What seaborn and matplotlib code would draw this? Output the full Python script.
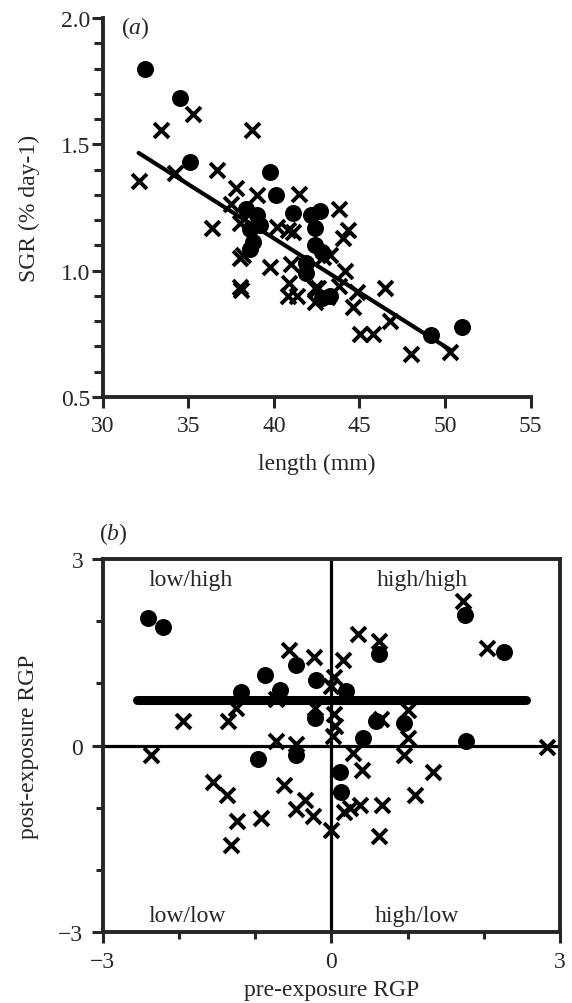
import numpy as np
import pandas as pd
import matplotlib
matplotlib.use("Agg")
import matplotlib.pyplot as plt
import seaborn as sns

# panel (a): SGR vs length
a_dot_len = [32.45, 34.5, 35.1, 39.8, 40.1, 38.4, 39.0, 38.6, 39.2, 38.8, 38.6,
             41.1, 42.2, 42.7, 42.4, 42.4, 42.8, 41.9, 41.9, 42.8, 43.3, 49.2, 51.0]
a_dot_sgr = [1.80, 1.685, 1.43, 1.39, 1.30, 1.245, 1.22, 1.166, 1.18, 1.113, 1.087,
             1.228, 1.22, 1.235, 1.17, 1.10, 1.075, 1.03, 0.99, 0.89, 0.90, 0.745, 0.778]
a_x_len = [32.1, 33.4, 35.25, 34.2, 36.7, 36.4, 37.8, 37.5, 38.0, 39.0, 38.7, 38.2, 38.0,
           38.0, 38.1, 39.8, 40.2, 40.8, 41.1, 41.5, 41.0, 40.9, 40.85, 41.35, 42.4, 42.4,
           43.1, 42.9, 43.3, 43.8, 44.35, 44.05, 44.15, 44.85, 44.65, 46.5, 46.8, 45.05,
           45.8, 48.0, 50.3, 42.6, 43.8]
a_x_sgr = [1.355, 1.555, 1.62, 1.385, 1.40, 1.168, 1.328, 1.262, 1.19, 1.30, 1.555, 1.062, 1.05,
           0.935, 0.925, 1.015, 1.172, 1.16, 1.152, 1.302, 1.025, 0.95, 0.90, 0.90, 0.93, 0.876,
           0.896, 1.055, 1.06, 1.245, 1.162, 1.128, 1.0, 0.916, 0.857, 0.93, 0.80, 0.751,
           0.751, 0.672, 0.68, 0.93, 0.94]
fit_len = [32.1, 50.35]
fit_sgr = [1.466, 0.685]

# panel (b): post- vs pre-exposure RGP
b_dot_pre = [-2.40, -2.21, -1.19, -0.87, -0.68, -0.46, -0.20, -0.21, 0.19, 0.62, 0.59,
             0.95, 0.42, 1.76, 2.26, 1.77, -0.96, -0.47, 0.11, 0.13]
b_dot_post = [2.05, 1.91, 0.86, 1.14, 0.90, 1.29, 1.06, 0.45, 0.87, 1.47, 0.40,
              0.36, 0.12, 2.10, 1.51, 0.07, -0.22, -0.15, -0.43, -0.74]
b_x_pre = [1.73, 0.35, 0.62, -0.55, -0.23, 0.15, 2.04, 0.04, -0.01, -0.72, -1.25, -1.94,
           -1.35, -0.21, 0.04, 0.05, 0.65, 1.00, 0.02, 1.00, -0.72, -0.46, -2.36, 2.83,
           0.28, 0.40, 0.95, 1.34, 1.10, 0.67, 0.37, 0.17, 0.25, -0.24, 0.00, 0.62,
           -0.35, -0.46, -0.62, -1.55, -1.37, -1.24, -0.92, -1.31]
b_x_post = [2.32, 1.79, 1.68, 1.54, 1.43, 1.38, 1.57, 1.10, 0.95, 0.75, 0.60, 0.39,
            0.39, 0.60, 0.50, 0.31, 0.42, 0.57, 0.16, 0.12, 0.08, 0.03, -0.15, -0.02,
            -0.12, -0.39, -0.15, -0.42, -0.79, -0.95, -0.95, -1.07, -1.00, -1.14, -1.36, -1.46,
            -0.88, -1.02, -0.63, -0.58, -0.79, -1.22, -1.17, -1.60]
mean_pre = [-2.55, 2.55]
mean_post = [0.74, 0.74]
quadrants = ["low/high", "high/high", "low/low", "high/low"]

sns.set_style("ticks")
plt.rcParams['font.family'] = ['Liberation Serif', 'DejaVu Serif']
plt.rcParams['mathtext.fontset'] = 'custom'
plt.rcParams['mathtext.rm'] = 'Liberation Serif'
plt.rcParams['mathtext.it'] = 'Liberation Serif:italic'
plt.rcParams['font.size'] = 17

fig = plt.figure(figsize=(5.72, 10.04), dpi=100)
ax1 = fig.add_axes([0.1795, 0.6036, 0.748, 0.3775])
ax2 = fig.add_axes([0.1795, 0.0707, 0.7995, 0.3715])

dot_kw = dict(marker='o', s=150, color='black', linewidth=0, clip_on=False, legend=False)
x_kw = dict(marker='x', s=115, color='black', linewidth=2.8, clip_on=False, legend=False)

# (a)
sns.scatterplot(x=a_x_len, y=a_x_sgr, ax=ax1, **x_kw)
sns.scatterplot(x=a_dot_len, y=a_dot_sgr, ax=ax1, **dot_kw)
sns.lineplot(x=fit_len, y=fit_sgr, ax=ax1, color='black', linewidth=3)
ax1.set_xlim(30, 55)
ax1.set_ylim(0.5, 2.0)
ax1.set_xticks([30, 35, 40, 45, 50, 55])
ax1.set_yticks([0.5, 1.0, 1.5, 2.0])
ax1.set_yticklabels(['0.5', '1.0', '1.5', '2.0'])
ax1.set_yticks(np.arange(0.6, 2.0, 0.1), minor=True)
sns.despine(ax=ax1)
for s in ['left', 'bottom']:
    ax1.spines[s].set_linewidth(2.8)
ax1.tick_params(which='major', length=8, width=2.2, labelsize=17)
ax1.tick_params(which='minor', length=6.5, width=2.2)
ax1.tick_params(axis='y', pad=1)
ax1.tick_params(axis='x', pad=5)
ax1.set_xlabel('length (mm)', fontsize=17)
ax1.set_ylabel('SGR (% day-1)', fontsize=17)
ax1.xaxis.set_label_coords(0.5, -0.148)
ax1.yaxis.set_label_coords(-0.146, 0.5)
ax1.text(31.9, 1.965, r'($\mathit{a}$)', fontsize=17, ha='center', va='center')

# (b)
ax2.axhline(0, color='black', linewidth=2.3, zorder=1)
ax2.axvline(0, color='black', linewidth=2.3, zorder=1)
sns.scatterplot(x=b_x_pre, y=b_x_post, ax=ax2, **x_kw)
sns.scatterplot(x=b_dot_pre, y=b_dot_post, ax=ax2, **dot_kw)
sns.lineplot(x=mean_pre, y=mean_post, ax=ax2, color='black', linewidth=6.5,
             solid_capstyle='round')
ax2.set_xlim(-3, 3)
ax2.set_ylim(-3, 3)
ax2.set_xticks([-3, 0, 3])
ax2.set_yticks([-3, 0, 3])
ax2.set_xticks([-2, -1, 1, 2], minor=True)
ax2.set_yticks([-2, -1, 1, 2], minor=True)
for s in ax2.spines.values():
    s.set_linewidth(2.8)
ax2.tick_params(which='major', length=8, width=2.2, labelsize=17, pad=6)
ax2.tick_params(which='minor', length=4.75, width=2.2)
ax2.set_xlabel('pre-exposure RGP', fontsize=17)
ax2.set_ylabel('post-exposure RGP', fontsize=17)
ax2.xaxis.set_label_coords(0.5, -0.125)
ax2.yaxis.set_label_coords(-0.140, 0.5)
ax2.text(-2.86, 3.42, r'($\mathit{b}$)', fontsize=17, ha='center', va='center', clip_on=False)
for (qx, qy), q in zip([(-1.84, 2.67), (1.19, 2.67), (-1.89, -2.73), (1.12, -2.73)], quadrants):
    ax2.text(qx, qy, q, fontsize=17, ha='center', va='center')

fig.savefig('out.png', dpi=100)
